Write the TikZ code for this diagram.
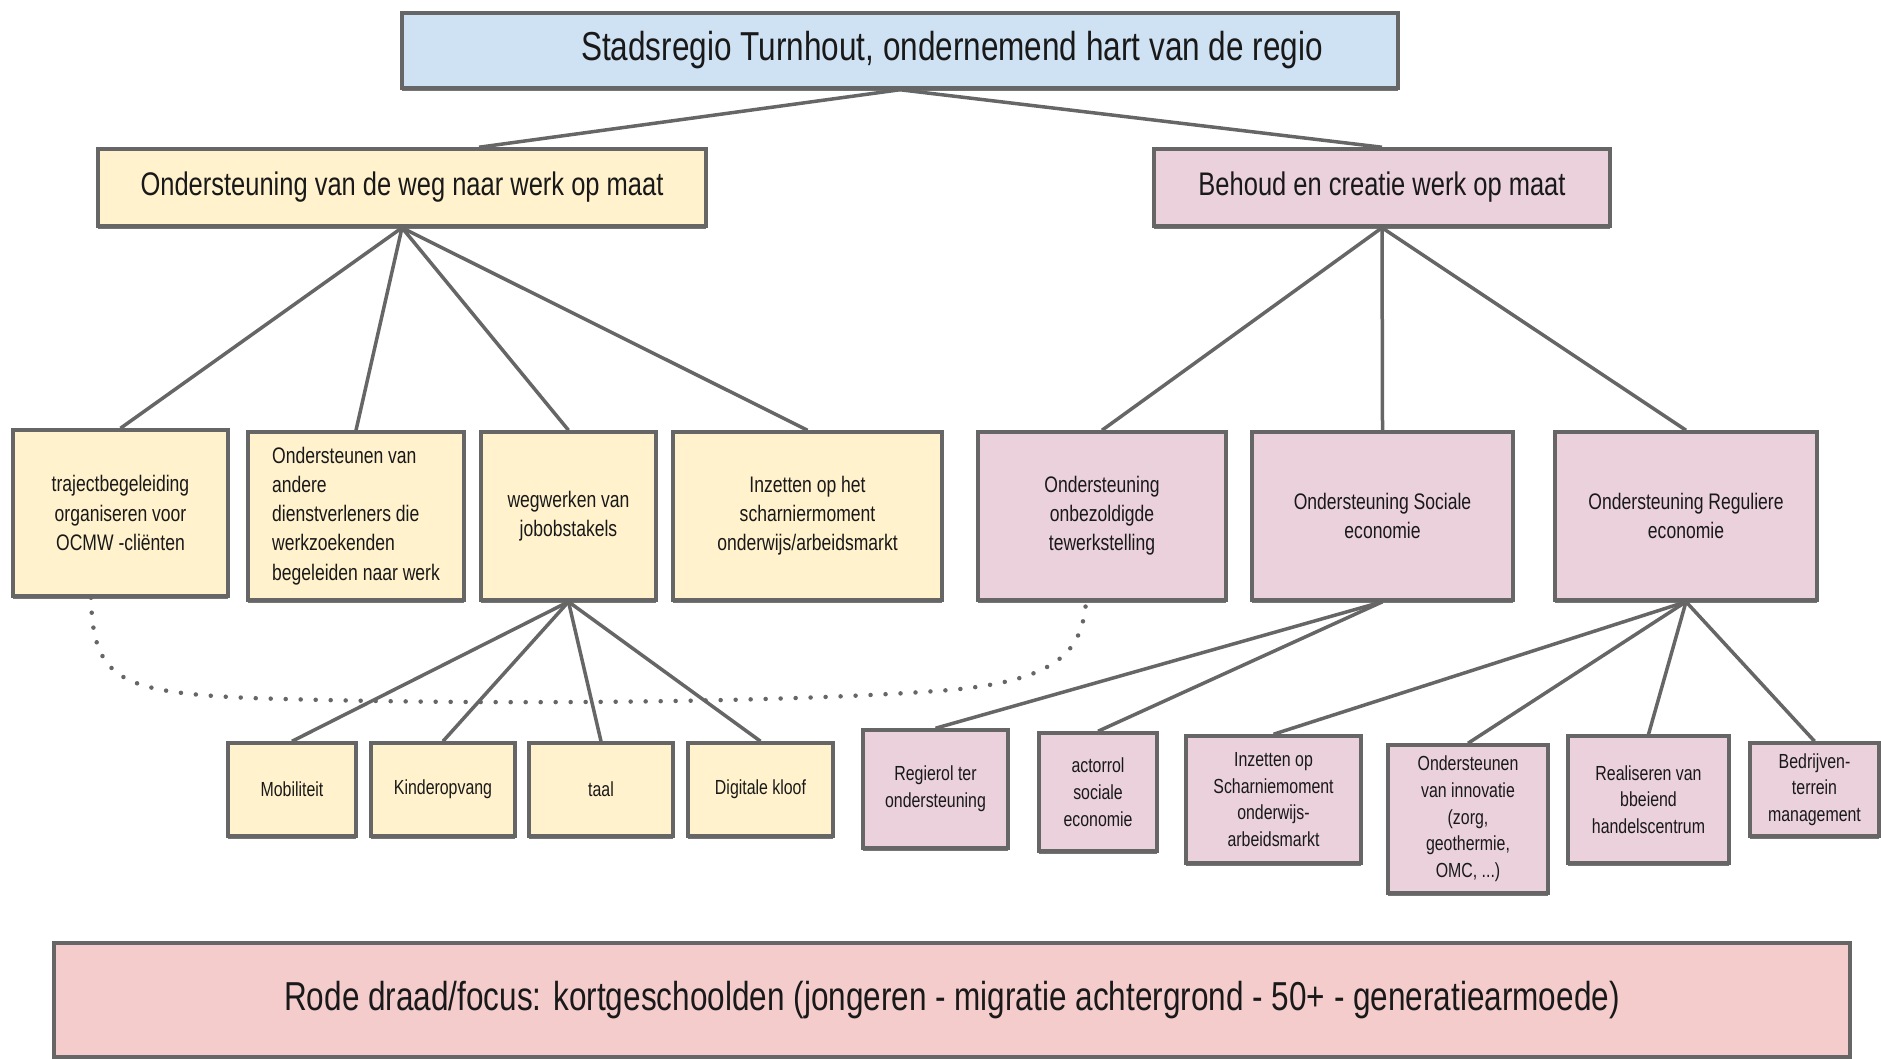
\documentclass[tikz,border=0pt]{standalone}
\usepackage{fontspec}
\setmainfont[FakeStretch=0.78]{Liberation Sans}
\usetikzlibrary{shadows}
\definecolor{randgrijs}{HTML}{666666}
\definecolor{kopblauw}{HTML}{CFE2F3}
\definecolor{weggeel}{HTML}{FFF2CC}
\definecolor{werkroze}{HTML}{EAD1DC}
\definecolor{draadrood}{HTML}{F4CCCC}
\newcommand{\kopfont}{\fontsize{11.5}{13.5}\selectfont}
\newcommand{\tussenfont}{\fontsize{9.3}{11}\selectfont}
\newcommand{\kleinfont}{\fontsize{6.4}{8.3}\selectfont}
\newcommand{\minifont}{\fontsize{5.8}{7.6}\selectfont}
\begin{document}
\begin{tikzpicture}[x=0.1mm,y=-0.1mm,
    kader/.style={draw=randgrijs,line width=0.35mm,inner sep=0pt,align=center,text=black!90,
      drop shadow={shadow xshift=0mm,shadow yshift=-0.3mm,fill=randgrijs,opacity=0.9}},
    geel/.style={kader,fill=weggeel},
    roze/.style={kader,fill=werkroze},
    lijn/.style={draw=randgrijs,line width=0.35mm},
    stippel/.style={draw=randgrijs,line width=0.45mm,line cap=round,dash pattern=on 0pt off 1.5mm}]
                \useasboundingbox (0,0) rectangle (1881,1059);
                \node[kader,fill=kopblauw,minimum width=99.6mm,minimum height=7.5mm,font=\kopfont] (top) at (900,50.5) {\hspace*{10.4mm}Stadsregio Turnhout, ondernemend hart van de regio};
                \node[geel,minimum width=60.8mm,minimum height=7.7mm,font=\tussenfont] (weg) at (402,187.5) {Ondersteuning van de weg naar werk op maat};
                \node[roze,minimum width=45.6mm,minimum height=7.7mm,font=\tussenfont] (behoud) at (1382,187.5) {Behoud en creatie werk op maat};
                \node[geel,minimum width=21.5mm,minimum height=16.6mm,font=\kleinfont] (traj) at (120.5,513) {trajectbegeleiding\\organiseren voor\\OCMW -cliënten};
                \node[geel,minimum width=21.6mm,minimum height=16.8mm,font=\kleinfont,align=left] (anders) at (356,516) {Ondersteunen van\\andere\\dienstverleners die\\werkzoekenden\\begeleiden naar werk};
                \node[geel,minimum width=17.5mm,minimum height=16.8mm,font=\kleinfont] (wegwerk) at (568.5,516) {wegwerken van\\jobobstakels};
                \node[geel,minimum width=26.9mm,minimum height=16.8mm,font=\kleinfont] (scharnier) at (807.5,516) {Inzetten op het\\scharniermoment\\onderwijs/arbeidsmarkt};
                \node[roze,minimum width=24.8mm,minimum height=16.8mm,font=\kleinfont] (onbezold) at (1102,516) {Ondersteuning\\onbezoldigde\\tewerkstelling};
                \node[roze,minimum width=26.1mm,minimum height=16.8mm,font=\kleinfont] (sociaal) at (1382.5,516) {Ondersteuning Sociale\\economie};
                \node[roze,minimum width=26.2mm,minimum height=16.8mm,font=\kleinfont] (regulier) at (1686,516) {Ondersteuning Reguliere\\economie};
                \node[geel,minimum width=12.8mm,minimum height=9.3mm,font=\minifont] (mobi) at (292,789.5) {Mobiliteit};
                \node[geel,minimum width=14.4mm,minimum height=9.3mm,font=\minifont] (kinder) at (443,789.5) {Kinderopvang};
                \node[geel,minimum width=14.4mm,minimum height=9.3mm,font=\minifont] (taal) at (601,789.5) {taal};
                \node[geel,minimum width=14.5mm,minimum height=9.3mm,font=\minifont] (digi) at (760.5,789.5) {Digitale kloof};
                \node[roze,minimum width=14.5mm,minimum height=11.8mm,font=\minifont] (regie) at (935.5,789) {Regierol ter\\ondersteuning};
                \node[roze,minimum width=11.8mm,minimum height=11.8mm,font=\minifont] (actor) at (1098,792) {actorrol\\sociale\\economie};
                \node[roze,minimum width=17.5mm,minimum height=12.7mm,font=\minifont] (inzet) at (1273.5,799.5) {Inzetten op\\Scharniemoment\\onderwijs-\\arbeidsmarkt};
                \node[roze,minimum width=16mm,minimum height=14.8mm,font=\minifont] (innov) at (1468,819) {Ondersteunen\\van innovatie\\(zorg,\\geothermie,\\OMC, ...)};
                \node[roze,minimum width=16.1mm,minimum height=12.7mm,font=\minifont] (real) at (1648.5,799.5) {Realiseren van\\bbeiend\\handelscentrum};
                \node[roze,minimum width=12.9mm,minimum height=9.3mm,font=\minifont] (bedr) at (1814.5,789.5) {Bedrijven-\\terrein\\management};
                \node[kader,fill=draadrood,minimum width=179.6mm,minimum height=11.4mm,font=\kopfont] (draad) at (952,1000) {Rode draad/focus: kortgeschoolden (jongeren - migratie achtergrond - 50+ - generatiearmoede)};
                \draw[lijn] (top.south) -- ([xshift=7.7mm]weg.north);
                \draw[lijn] (top.south) -- (behoud.north);
                \foreach \n in {traj,anders,wegwerk,scharnier}
                    \draw[lijn] (weg.south) -- (\n.north);
                \foreach \n in {onbezold,sociaal,regulier}
                    \draw[lijn] (behoud.south) -- (\n.north);
                \foreach \n in {mobi,kinder,taal,digi}
                    \draw[lijn] (wegwerk.south) -- (\n.north);
                \foreach \n in {regie,actor}
                    \draw[lijn] (sociaal.south) -- (\n.north);
                \foreach \n in {inzet,innov,real,bedr}
                    \draw[lijn] (regulier.south) -- (\n.north);
                \draw[stippel] ([xshift=-2.95mm]traj.south) .. controls (93,680) and (120,692) .. (250,698)
                    .. controls (500,706) and (800,702) .. (950,690)
                    .. controls (1060,680) and (1082,650) .. ([xshift=-1.6mm]onbezold.south);
            \end{tikzpicture}
\end{document}
